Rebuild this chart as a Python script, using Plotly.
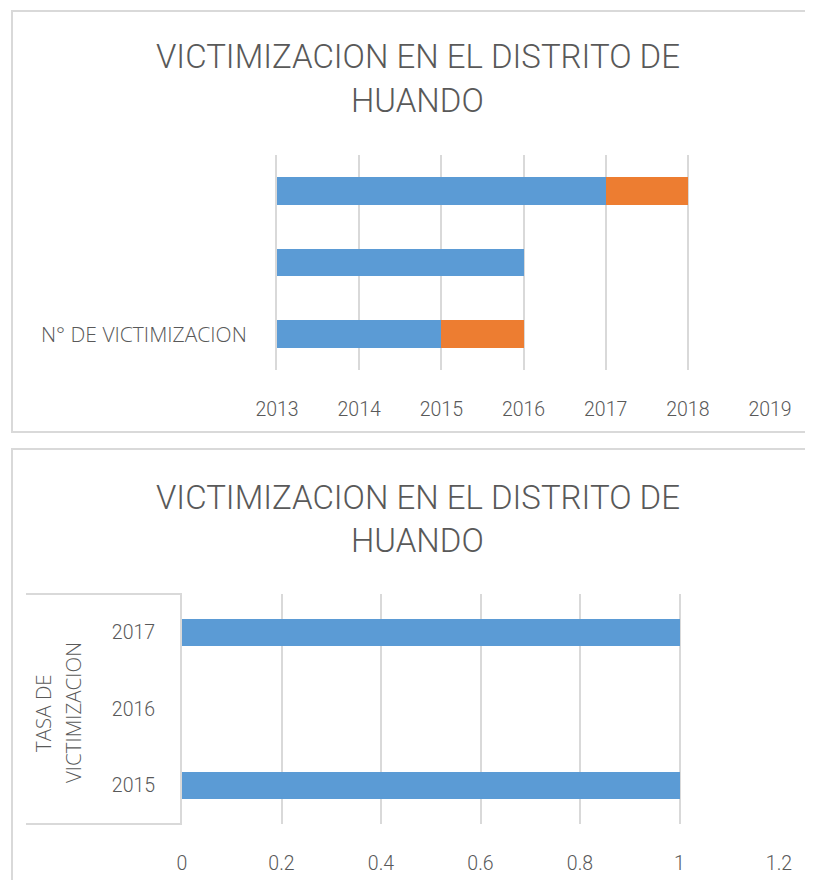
import plotly.graph_objects as go

# page body has an 8px margin: the figure starts at (8, 8)
OFF = 8
W, H = 813 - OFF, 880 - OFF

# ---- data ----
top_categories = ["N° DE VICTIMIZACION", "", ""]
top_blue = [2015, 2016, 2017]
top_orange = [1, 0, 1]
top_xticks = [2013, 2014, 2015, 2016, 2017, 2018, 2019]

bottom_categories = ["2015", "2016", "2017"]
bottom_values = [1, 0, 1]
bottom_xticks = [0, 0.2, 0.4, 0.6, 0.8, 1, 1.2]

title_text = ["VICTIMIZACION EN EL DISTRITO DE", "HUANDO"]
bottom_ytitle = ["TASA DE", "VICTIMIZACION"]

BLUE = "#5B9BD5"
ORANGE = "#ED7D31"
GRID = "#D9D9D9"
TXT = "#595959"
FONT = "Roboto, sans-serif"
FONT2 = "Open Sans, sans-serif"


def px(x):
    return (x - OFF) / W


def py(y):
    return 1 - (y - OFF) / H


fig = go.Figure()
idx = list(range(len(top_categories)))
fig.add_trace(go.Bar(y=idx, x=top_blue, orientation="h", marker_color=BLUE,
                     marker_line_width=0, width=0.39, xaxis="x", yaxis="y",
                     showlegend=False))
fig.add_trace(go.Bar(y=idx, x=top_orange, orientation="h", marker_color=ORANGE,
                     marker_line_width=0, width=0.39, xaxis="x", yaxis="y",
                     showlegend=False))
fig.add_trace(go.Bar(y=bottom_categories, x=bottom_values, orientation="h",
                     marker_color=BLUE, marker_line_width=0, width=0.35,
                     xaxis="x2", yaxis="y2", showlegend=False))

axfont = dict(family=FONT, size=19.5, color=TXT, weight=300)
catfont = dict(family=FONT2, size=21, color=TXT, weight=300)

fig.update_layout(
    template="none",
    width=W, height=H, margin=dict(l=0, r=0, t=0, b=0, autoexpand=False),
    paper_bgcolor="white", plot_bgcolor="white", barmode="stack",
    xaxis=dict(domain=[px(277), px(770)], range=[2013, 2019], tickvals=top_xticks,
               showgrid=True, gridcolor=GRID, gridwidth=2, zeroline=False,
               showline=False, tickfont=axfont, ticks="outside", ticklen=22,
               tickcolor="rgba(0,0,0,0)", anchor="y", automargin=False),
    yaxis=dict(domain=[py(370), py(155)], range=[-0.5, 2.5], tickvals=idx,
               ticktext=top_categories, showgrid=False, zeroline=False,
               showline=True, linecolor=GRID, linewidth=2, tickfont=catfont,
               ticks="outside", ticklen=24, tickcolor="rgba(0,0,0,0)",
               anchor="x", automargin=False),
    xaxis2=dict(domain=[px(182), px(779)], range=[0, 1.2], tickvals=bottom_xticks,
                showgrid=True, gridcolor=GRID, gridwidth=2,
                zeroline=False, showline=False, tickfont=axfont, ticks="outside",
                ticklen=22, tickcolor="rgba(0,0,0,0)", anchor="y2",
                automargin=False),
    yaxis2=dict(domain=[py(824), py(594)], type="category",
                categoryorder="array", categoryarray=bottom_categories,
                range=[-0.5, 2.5], showgrid=False, zeroline=False,
                showline=True, linecolor=GRID, linewidth=2, tickfont=axfont,
                ticks="outside", ticklen=21, tickcolor="rgba(0,0,0,0)",
                anchor="x2", automargin=False),
)

shapes = [
    # chart borders
    dict(type="rect", xref="paper", yref="paper", x0=px(12), y0=py(432),
         x1=px(830), y1=py(11), line=dict(color=GRID, width=2)),
    dict(type="rect", xref="paper", yref="paper", x0=px(12), y0=py(900),
         x1=px(830), y1=py(449), line=dict(color=GRID, width=2)),
    # axis title box lines in bottom chart
    dict(type="line", xref="paper", yref="paper", x0=px(26), x1=px(182),
         y0=py(594), y1=py(594), line=dict(color=GRID, width=2)),
    dict(type="line", xref="paper", yref="paper", x0=px(26), x1=px(182),
         y0=py(824), y1=py(824), line=dict(color=GRID, width=2)),
]
fig.update_layout(shapes=shapes)

tfont = dict(family=FONT, size=33, color=TXT, weight=300)
ann = []
for base in (0, 440):
    ann.append(dict(text=title_text[0], x=px(418), y=py(57 + base), xref="paper",
                    yref="paper", showarrow=False, xanchor="center",
                    yanchor="middle", font=tfont))
    ann.append(dict(text=title_text[1], x=px(418), y=py(100 + base), xref="paper",
                    yref="paper", showarrow=False, xanchor="center",
                    yanchor="middle", font=tfont))
for txt, xx in zip(bottom_ytitle, (43, 73)):
    ann.append(dict(text=txt, x=px(xx), y=py(713), xref="paper", yref="paper",
                    showarrow=False, textangle=-90, xanchor="center",
                    yanchor="middle",
                    font=dict(family=FONT2, size=20.5, color=TXT, weight=300)))
fig.update_layout(annotations=ann)

fig.write_html("out.html")
